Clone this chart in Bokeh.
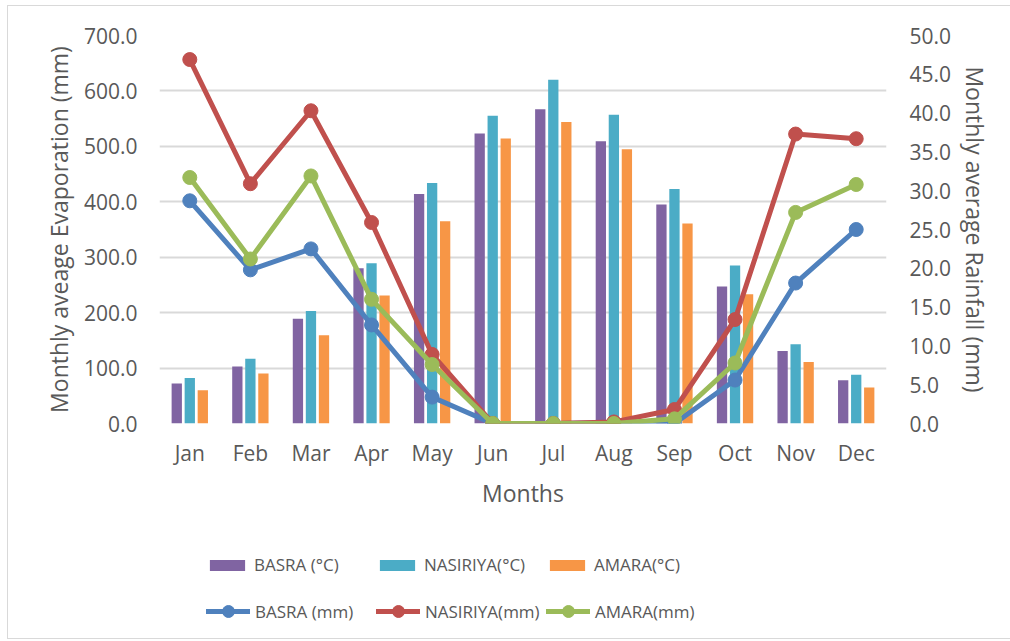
from bokeh.plotting import figure
from bokeh.layouts import column
from bokeh.models import (ColumnDataSource, FactorRange, Range1d, LinearAxis, FixedTicker,
                          NumeralTickFormatter, Legend, LegendItem)
from bokeh.transform import dodge
from bokeh.embed import file_html
from bokeh.resources import INLINE

months = ["Jan", "Feb", "Mar", "Apr", "May", "Jun", "Jul", "Aug", "Sep", "Oct", "Nov", "Dec"]
evap_basra = [72, 103, 189, 280, 414, 523, 567, 509, 395, 247, 131, 78]
evap_nasiriya = [82, 117, 203, 289, 434, 555, 620, 557, 423, 285, 143, 88]
evap_amara = [60, 90, 159, 231, 365, 514, 544, 495, 361, 233, 111, 65]
rain_basra = [28.7, 19.8, 22.5, 12.7, 3.4, 0.0, 0.0, 0.1, 0.0, 5.6, 18.1, 25.0]
rain_nasiriya = [46.9, 30.9, 40.3, 25.9, 8.9, 0.0, 0.0, 0.2, 1.8, 13.4, 37.3, 36.7]
rain_amara = [31.7, 21.2, 31.9, 16.0, 7.6, 0.0, 0.0, 0.0, 0.6, 7.8, 27.2, 30.8]
left_ticks = [0, 100, 200, 300, 400, 500, 600, 700]
right_ticks = [0, 5, 10, 15, 20, 25, 30, 35, 40, 45, 50]

bar_series = [("eb", evap_basra, "#8064A2", "BASRA (°C)", -0.215),
              ("en", evap_nasiriya, "#4BACC6", "NASIRIYA(°C)", 0.0),
              ("ea", evap_amara, "#F79646", "AMARA(°C)", 0.215)]
line_series = [("rb", rain_basra, "#4F81BD", "BASRA (mm)"),
               ("rn", rain_nasiriya, "#C0504D", "NASIRIYA(mm)"),
               ("ra", rain_amara, "#9BBB59", "AMARA(mm)")]

data = dict(month=months)
for k, v, *_ in bar_series + line_series:
    data[k] = v
src = ColumnDataSource(data)

TXT = "#595959"
FONT = "Open Sans"
GRID = "#D9D9D9"

OX, OY = 7, 5          # page offset of the chart box
W = 1003
H1 = 515
H2 = 117

p = figure(width=W, height=H1, x_range=FactorRange(*months), y_range=Range1d(0, 700),
           output_backend="svg", toolbar_location=None,
           min_border_left=158 - OX, min_border_right=W + OX - 885, min_border_top=34 - OY,
           min_border_bottom=H1 - (422 - OY))
p.extra_y_ranges = {"rain": Range1d(0, 50)}
p.outline_line_color = None

p.xgrid.grid_line_color = None
p.ygrid.grid_line_color = GRID
p.ygrid.grid_line_width = 2
p.ygrid.ticker = FixedTicker(ticks=left_ticks)

ya = p.yaxis[0]
ya.ticker = FixedTicker(ticks=left_ticks)
ya.formatter = NumeralTickFormatter(format="0.0")
ya.axis_label = "Monthly aveage Evaporation (mm)"

ra = LinearAxis(y_range_name="rain", ticker=FixedTicker(ticks=right_ticks),
                formatter=NumeralTickFormatter(format="0.0"),
                axis_label="Monthly average Rainfall (mm)")
p.add_layout(ra, "right")

xa = p.xaxis[0]
xa.axis_label = "Months"

for ax in [ya, ra, xa]:
    ax.axis_line_color = None
    ax.major_tick_line_color = None
    ax.minor_tick_line_color = None
    ax.major_label_text_font = FONT
    ax.major_label_text_font_size = "21px"
    ax.major_label_text_color = TXT
    ax.axis_label_text_font = FONT
    ax.axis_label_text_font_size = "23px"
    ax.axis_label_text_font_style = "normal"
    ax.axis_label_text_color = TXT
ya.major_label_standoff = 16
ya.axis_label_standoff = 6
ra.major_label_standoff = 17
ra.axis_label_standoff = 5
xa.major_label_standoff = 9
xa.axis_label_standoff = 7


def draw(fig):
    bars, lines = [], []
    for k, _, color, label, off in bar_series:
        r = fig.vbar(x=dodge("month", off, range=fig.x_range), top=k, width=0.17, source=src,
                     fill_color=color, line_color=None)
        bars.append(LegendItem(label=label, renderers=[r]))
    for k, _, color, label in line_series:
        l = fig.line(x="month", y=k, source=src, y_range_name="rain", line_color=color,
                     line_width=5, line_join="round", line_cap="round")
        s = fig.scatter(x="month", y=k, source=src, y_range_name="rain", marker="circle",
                        size=14, fill_color=color, line_color=color)
        lines.append(LegendItem(label=label, renderers=[l, s]))
    return bars, lines


draw(p)

# legend strip: same series, drawn out of view so only the legend shows
lf = figure(width=W, height=H2, x_range=p.x_range, y_range=Range1d(5000, 5001),
            output_backend="svg", toolbar_location=None, min_border=0,
            x_axis_location=None, y_axis_location=None)
lf.extra_y_ranges = {"rain": Range1d(5000, 5001)}
lf.outline_line_color = None
lf.grid.grid_line_color = None
bar_items, line_items = draw(lf)


def mk_legend(items, loc, gh):
    return Legend(items=items, location=loc, orientation="horizontal",
                  glyph_width=44, glyph_height=gh, label_standoff=5, label_width=116,
                  spacing=5, padding=0, margin=0,
                  label_text_font=FONT, label_text_font_size="17px", label_text_color=TXT,
                  background_fill_alpha=0, border_line_color=None)


lf.add_layout(mk_legend(bar_items, (46, 62), 14), "center")
lf.add_layout(mk_legend(line_items, (47, 12), 30), "center")

layout = column(p, lf, spacing=0)
layout.styles = {"border": "1px solid #D9D9D9", "margin-left": f"{OX}px",
                 "margin-top": f"{OY}px"}

open("out.html", "w").write(file_html(layout, INLINE))
